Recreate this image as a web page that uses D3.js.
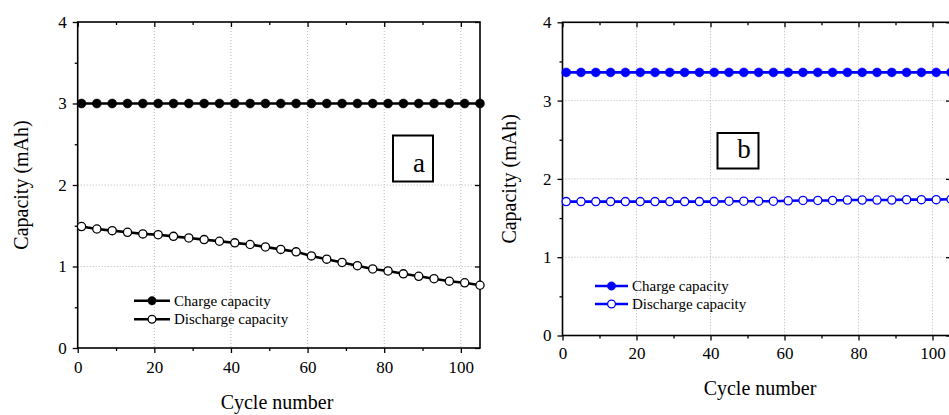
<!DOCTYPE html>
<html>
<head>
<meta charset="utf-8">
<script src="https://cdn.jsdelivr.net/npm/d3@7/dist/d3.min.js"></script>
<style>
  html, body { margin: 0; padding: 0; background: #fff; }
  svg { display: block; }
  text { font-family: "Liberation Serif", "Times New Roman", serif; fill: #000; }
</style>
</head>
<body>
<svg id="chart" width="949" height="415"></svg>
<script>
// Cycle numbers at which capacity was sampled
const cycles = [1, 5, 9, 13, 17, 21, 25, 29, 33, 37, 41, 45, 49, 53, 57, 61, 65, 69, 73, 77, 81, 85, 89, 93, 97, 101, 105];

// Cell a
const chargeA = [3.0, 3.0, 3.0, 3.0, 3.0, 3.0, 3.0, 3.0, 3.0, 3.0, 3.0, 3.0, 3.0, 3.0, 3.0, 3.0, 3.0, 3.0, 3.0, 3.0, 3.0, 3.0, 3.0, 3.0, 3.0, 3.0, 3.0];
const dischargeA = [1.49, 1.46, 1.44, 1.42, 1.40, 1.39, 1.37, 1.35, 1.33, 1.31, 1.29, 1.27, 1.24, 1.21, 1.18, 1.13, 1.09, 1.05, 1.01, 0.97, 0.945, 0.91, 0.88, 0.85, 0.82, 0.80, 0.77];

// Cell b
const chargeB = [3.36, 3.36, 3.36, 3.36, 3.36, 3.36, 3.36, 3.36, 3.36, 3.36, 3.36, 3.36, 3.36, 3.36, 3.36, 3.36, 3.36, 3.36, 3.36, 3.36, 3.36, 3.36, 3.36, 3.36, 3.36, 3.36, 3.36];
const dischargeB = [1.71, 1.71, 1.71, 1.71, 1.71, 1.71, 1.71, 1.71, 1.71, 1.71, 1.71, 1.715, 1.715, 1.715, 1.715, 1.72, 1.725, 1.725, 1.725, 1.73, 1.73, 1.73, 1.73, 1.735, 1.735, 1.735, 1.74];

// Axis ticks
const xMajor = [0, 20, 40, 60, 80, 100];
const xMinor = [10, 30, 50, 70, 90];
const yMajor = [0, 1, 2, 3, 4];
const yMinor = [0.5, 1.5, 2.5, 3.5];
const gridX = [20, 40, 60, 80, 100];
const gridY = [1, 2, 3];
const seriesNames = ["Charge capacity", "Discharge capacity"];

const SERIF = '"Liberation Serif", "Times New Roman", serif';
const svg = d3.select("#chart");

function drawPanel(p) {
  const x = d3.scaleLinear().domain([0, 105]).range([p.left, p.right]);
  const y = d3.scaleLinear().domain([0, 4]).range([p.bottom, p.top]);
  const g = svg.append("g");

  // dotted grid
  g.append("g").selectAll("line").data(gridX).join("line")
    .attr("x1", d => x(d)).attr("x2", d => x(d))
    .attr("y1", p.top).attr("y2", p.bottom)
    .attr("stroke", "#b8b8b8").attr("stroke-width", 1).attr("stroke-dasharray", "1,2");
  g.append("g").selectAll("line").data(gridY).join("line")
    .attr("x1", p.left).attr("x2", p.right)
    .attr("y1", d => y(d)).attr("y2", d => y(d))
    .attr("stroke", "#b8b8b8").attr("stroke-width", 1).attr("stroke-dasharray", "1,2");

  const styleAxis = sel => {
    sel.attr("font-family", SERIF).attr("font-size", p.tickFont);
    sel.select(".domain").remove();
    sel.selectAll(".tick line").attr("stroke", "#000").attr("stroke-width", 1.3);
    sel.selectAll("text").attr("font-family", SERIF).style("font-family", SERIF)
      .style("font-size", p.tickFont + "px").attr("fill", "#000");
  };

  // bottom axis with labels, outward ticks
  g.append("g").attr("transform", `translate(0,${p.bottom})`)
    .call(d3.axisBottom(x).tickValues(xMajor).tickSize(5).tickPadding(p.xPad).tickFormat(d3.format("d")))
    .call(styleAxis);
  g.append("g").attr("transform", `translate(0,${p.bottom})`)
    .call(d3.axisBottom(x).tickValues(xMinor).tickSize(3).tickFormat(""))
    .call(styleAxis);
  // top mirror, inward ticks
  g.append("g").attr("transform", `translate(0,${p.top})`)
    .call(d3.axisTop(x).tickValues(xMajor).tickSize(-5).tickFormat(""))
    .call(styleAxis);
  g.append("g").attr("transform", `translate(0,${p.top})`)
    .call(d3.axisTop(x).tickValues(xMinor).tickSize(-3).tickFormat(""))
    .call(styleAxis);
  // left axis with labels
  g.append("g").attr("transform", `translate(${p.left},0)`)
    .call(d3.axisLeft(y).tickValues(yMajor).tickSize(5).tickPadding(6).tickFormat(d3.format("d")))
    .call(styleAxis);
  g.append("g").attr("transform", `translate(${p.left},0)`)
    .call(d3.axisLeft(y).tickValues(yMinor).tickSize(3).tickFormat(""))
    .call(styleAxis);
  // right mirror, inward ticks
  g.append("g").attr("transform", `translate(${p.right},0)`)
    .call(d3.axisRight(y).tickValues(yMajor).tickSize(-5).tickFormat(""))
    .call(styleAxis);

  // frame
  g.append("rect")
    .attr("x", p.left).attr("y", p.top)
    .attr("width", p.right - p.left).attr("height", p.bottom - p.top)
    .attr("fill", "none").attr("stroke", "#000").attr("stroke-width", 1.6);

  // series
  const line = d3.line().x((d, i) => x(cycles[i])).y(d => y(d));
  const series = [
    { values: p.charge, filled: true },
    { values: p.discharge, filled: false }
  ];
  series.forEach(s => {
    g.append("path").datum(s.values)
      .attr("d", line)
      .attr("fill", "none").attr("stroke", p.color).attr("stroke-width", 2.6);
    g.append("g").selectAll("circle").data(s.values).join("circle")
      .attr("cx", (d, i) => x(cycles[i])).attr("cy", d => y(d))
      .attr("r", s.filled ? 4.5 : 4.1)
      .attr("fill", s.filled ? p.color : "#fff")
      .attr("stroke", p.color).attr("stroke-width", s.filled ? 0.5 : 1.3);
  });

  // legend
  seriesNames.forEach((name, i) => {
    const ly = p.legY + i * p.legGap;
    g.append("line")
      .attr("x1", p.legX).attr("x2", p.legX + p.legLen)
      .attr("y1", ly).attr("y2", ly)
      .attr("stroke", p.color).attr("stroke-width", 2.6);
    g.append("circle")
      .attr("cx", p.legX + p.legLen / 2).attr("cy", ly)
      .attr("r", i === 0 ? 4.2 : 3.9)
      .attr("fill", i === 0 ? p.color : "#fff")
      .attr("stroke", p.color).attr("stroke-width", i === 0 ? 0.5 : 1.3);
    g.append("text")
      .attr("x", p.legX + p.legLen + 4).attr("y", ly + 5)
      .style("font-size", "15px")
      .text(name);
  });

  // panel label box
  g.append("rect")
    .attr("x", p.box[0]).attr("y", p.box[1])
    .attr("width", p.box[2]).attr("height", p.box[3])
    .attr("fill", "#fff").attr("stroke", "#000").attr("stroke-width", 2);
  g.append("text")
    .attr("x", p.box[0] + p.box[2] / 2 + 6).attr("y", p.labelY)
    .attr("text-anchor", "middle")
    .style("font-size", "27px")
    .text(p.label);

  // axis titles
  g.append("text")
    .attr("transform", `translate(${p.yTitleX},${(p.top + p.bottom) / 2}) rotate(-90)`)
    .attr("text-anchor", "middle")
    .style("font-size", "20px")
    .text("Capacity (mAh)");
  g.append("text")
    .attr("x", p.xTitleX).attr("y", p.xTitleY)
    .attr("text-anchor", "middle")
    .style("font-size", "20px")
    .text("Cycle number");
}

drawPanel({
  left: 77.7, right: 480, top: 22, bottom: 348,
  charge: chargeA, discharge: dischargeA, color: "#000",
  tickFont: 17, xPad: 8,
  legX: 134, legLen: 36, legY: 300.7, legGap: 18.6,
  box: [393, 135.5, 40, 46], labelY: 171.5, label: "a",
  yTitleX: 28, xTitleX: 277, xTitleY: 409
});

drawPanel({
  left: 562.5, right: 951, top: 22.3, bottom: 335.5,
  charge: chargeB, discharge: dischargeB, color: "#0000ff",
  tickFont: 17, xPad: 6.5,
  legX: 595, legLen: 33, legY: 286, legGap: 18,
  box: [717.5, 133, 41, 35.5], labelY: 157.5, label: "b",
  yTitleX: 516, xTitleX: 760, xTitleY: 395
});
</script>
</body>
</html>
